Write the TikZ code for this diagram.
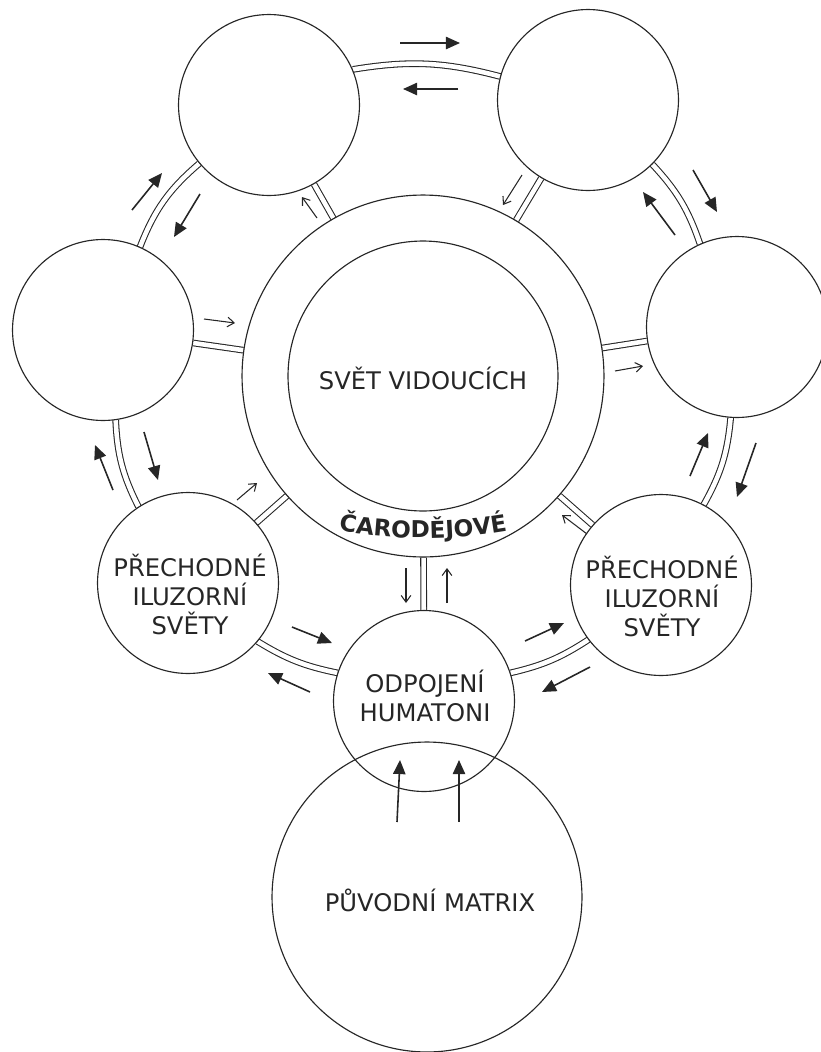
\documentclass[tikz,border=0pt]{standalone}
\usepackage{fontspec}
\setmainfont{DejaVu Sans}
\usetikzlibrary{arrows.meta}
\usetikzlibrary{decorations.text}
\usetikzlibrary{backgrounds}
\newcommand{\linecolor}{black!85}
\newcommand{\worldsize}{3.62cm}
\newcommand{\ringwidth}{0.65pt}
\tikzset{
	world/.style={circle, draw=\linecolor, line width=\ringwidth, minimum size=\worldsize, inner sep=0pt},
	link/.style={draw=\linecolor, double, double distance=2.6pt, line width=0.6pt},
	bigarrow/.style={draw=\linecolor, fill=\linecolor, line width=0.9pt, -{Triangle[length=8pt,width=7pt]}},
	smallarrow/.style={draw=\linecolor, line width=0.6pt, -{Straight Barb[length=3.8pt,width=5.5pt]}},
	worldtext/.style={font=\fontsize{13.8}{16.5}\selectfont, text=\linecolor, align=center}
}

\begin{document}
\begin{tikzpicture}[x=0.02cm, y=0.02cm]
	\useasboundingbox (0,0) rectangle (821,-1052);

	\node[world, minimum size=7.24cm] (c) at (423,-376) {};
	\node[world, minimum size=5.4cm] (svet) at (423,-376) {};
	\node[world] (tl) at (269,-105) {};
	\node[world] (tr) at (588,-100) {};
	\node[world] (l) at (103,-330) {};
	\node[world] (r) at (737,-327) {};
	\node[world] (ll) at (188,-583) {};
	\node[world] (lr) at (661,-585) {};
	\node[world] (b) at (424,-701) {};
	\node[world, minimum size=6.2cm] (m) at (427,-897) {};

	\node[worldtext] (svet-t) at (423,-378) {SVĚT VIDOUCÍCH};
	\node[worldtext] (ll-t) at (190,-594) {PŘECHODNÉ\\ILUZORNÍ\\SVĚTY};
	\node[worldtext] (lr-t) at (662,-596) {PŘECHODNÉ\\ILUZORNÍ\\SVĚTY};
	\node[worldtext] (b-t) at (425,-696) {ODPOJENÍ\\HUMATONI};
	\node[worldtext] (m-t) at (430,-900) {PŮVODNÍ MATRIX};

	\path[decorate, decoration={text along path, text align=center,
		text={|\bfseries\fontsize{13.2}{15}\selectfont\color{black!85}|ČARODĚJOVÉ}}]
		(423,-38) ++(257:500) arc[start angle=257, end angle=283, radius=500];

	\begin{scope}[on background layer]
		\draw[link] (c) -- (tl);
		\draw[link] (c) -- (tr);
		\draw[link] (c) -- (l);
		\draw[link] (c) -- (r);
		\draw[link] (c) -- (ll);
		\draw[link] (c) -- (lr);
		\draw[link] (c) -- (b);

		\draw[link] (tl.23) to[bend left=12] (tr.165);
		\draw[link] (tr.-45) to[bend left=12] (r.114);
		\draw[link] (r.-94) to[bend left=12] (lr.62);
		\draw[link] (lr.217) to[bend left=10] (b.18);
		\draw[link] (b.162) to[bend left=10] (ll.-40);
		\draw[link] (ll.123) to[bend left=12] (l.-82);
		\draw[link] (l.66) to[bend left=14] (tl.220);
	\end{scope}

	\draw[bigarrow] (400,-43) -- (460,-43);
	\draw[bigarrow] (458,-89) -- (403,-89);
	\draw[bigarrow] (132,-210) -- (162,-173);
	\draw[bigarrow] (200,-194) -- (174,-237);
	\draw[bigarrow] (693,-170) -- (717,-212);
	\draw[bigarrow] (675,-235) -- (643,-192);
	\draw[bigarrow] (756,-443) -- (737,-497);
	\draw[bigarrow] (690,-476) -- (708,-433);
	\draw[bigarrow] (525,-641) -- (564,-623);
	\draw[bigarrow] (590,-667) -- (542,-692);
	\draw[bigarrow] (292,-627) -- (332,-643);
	\draw[bigarrow] (310,-692) -- (268,-673);
	\draw[bigarrow] (113,-490) -- (95,-445);
	\draw[bigarrow] (144,-432) -- (158,-480);
	\draw[bigarrow] (397,-822) -- (400,-760);
	\draw[bigarrow] (459,-822) -- (459,-760);

	\draw[smallarrow] (317,-218) -- (302,-197);
	\draw[smallarrow] (522,-175) -- (503,-205);
	\draw[smallarrow] (204,-319) -- (235,-323);
	\draw[smallarrow] (615,-371) -- (643,-366);
	\draw[smallarrow] (237,-500) -- (257,-483);
	\draw[smallarrow] (587,-534) -- (562,-515);
	\draw[smallarrow] (406,-568) -- (406,-603);
	\draw[smallarrow] (447,-603) -- (447,-568);
\end{tikzpicture}
\end{document}
